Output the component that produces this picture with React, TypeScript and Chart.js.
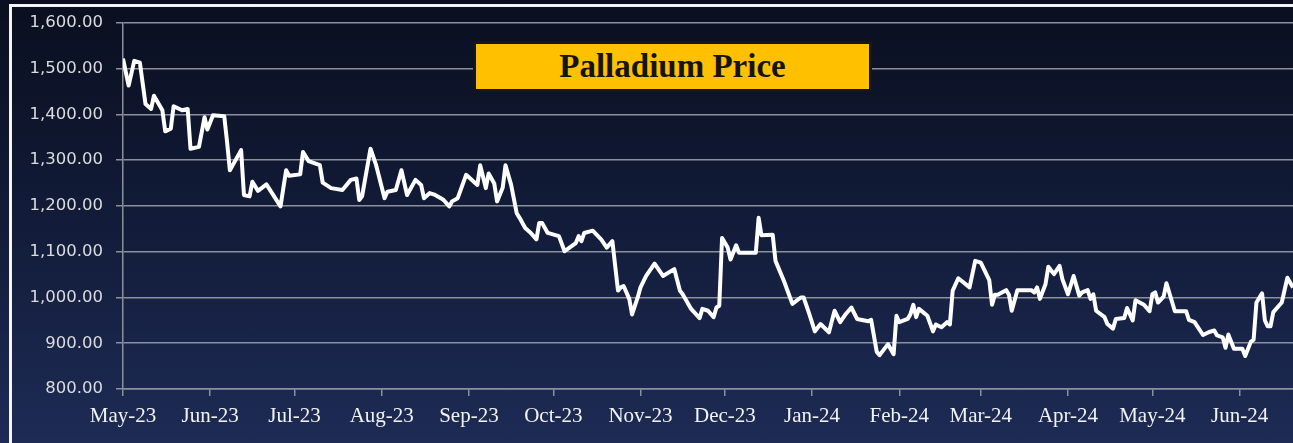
import React, { useEffect, useRef } from "react";
import { Chart, registerables } from "chart.js";

Chart.register(...registerables);

const chartTitle = "Palladium Price";
const axisStart = "2023-05-01";
const axisEnd = "2024-06-20";
const monthStarts = [
  "2023-05-01", "2023-06-01", "2023-07-01", "2023-08-01", "2023-09-01", "2023-10-01", "2023-11-01",
  "2023-12-01", "2024-01-01", "2024-02-01", "2024-03-01", "2024-04-01", "2024-05-01", "2024-06-01",
];
const monthLabels = [
  "May-23", "Jun-23", "Jul-23", "Aug-23", "Sep-23", "Oct-23", "Nov-23",
  "Dec-23", "Jan-24", "Feb-24", "Mar-24", "Apr-24", "May-24", "Jun-24",
];
const yMin = 800;
const yMax = 1600;
const yStep = 100;

const dates = [
  "2023-05-01", "2023-05-03", "2023-05-05", "2023-05-07", "2023-05-09", "2023-05-11", "2023-05-12", "2023-05-15",
  "2023-05-16", "2023-05-18", "2023-05-19", "2023-05-22", "2023-05-24", "2023-05-25", "2023-05-28", "2023-05-30",
  "2023-05-31", "2023-06-02", "2023-06-06", "2023-06-07", "2023-06-08", "2023-06-12", "2023-06-13", "2023-06-15",
  "2023-06-16", "2023-06-18", "2023-06-21", "2023-06-26", "2023-06-28", "2023-06-29", "2023-07-03", "2023-07-04",
  "2023-07-06", "2023-07-10", "2023-07-11", "2023-07-14", "2023-07-18", "2023-07-21", "2023-07-23", "2023-07-24",
  "2023-07-25", "2023-07-28", "2023-07-30", "2023-08-02", "2023-08-03", "2023-08-06", "2023-08-08", "2023-08-10",
  "2023-08-13", "2023-08-15", "2023-08-16", "2023-08-18", "2023-08-20", "2023-08-22", "2023-08-23", "2023-08-25",
  "2023-08-26", "2023-08-28", "2023-08-31", "2023-09-04", "2023-09-05", "2023-09-07", "2023-09-08", "2023-09-10",
  "2023-09-11", "2023-09-13", "2023-09-14", "2023-09-16", "2023-09-18", "2023-09-19", "2023-09-21", "2023-09-23",
  "2023-09-25", "2023-09-26", "2023-09-27", "2023-09-29", "2023-10-03", "2023-10-05", "2023-10-07", "2023-10-09",
  "2023-10-10", "2023-10-11", "2023-10-12", "2023-10-15", "2023-10-18", "2023-10-20", "2023-10-22", "2023-10-24",
  "2023-10-25", "2023-10-26", "2023-10-28", "2023-10-29", "2023-10-31", "2023-11-01", "2023-11-03", "2023-11-06",
  "2023-11-09", "2023-11-13", "2023-11-15", "2023-11-16", "2023-11-19", "2023-11-22", "2023-11-23", "2023-11-25",
  "2023-11-27", "2023-11-28", "2023-11-29", "2023-11-30", "2023-12-02", "2023-12-03", "2023-12-05", "2023-12-06",
  "2023-12-12", "2023-12-13", "2023-12-14", "2023-12-18", "2023-12-19", "2023-12-22", "2023-12-25", "2023-12-28",
  "2023-12-29", "2023-12-31", "2024-01-02", "2024-01-04", "2024-01-07", "2024-01-09", "2024-01-11", "2024-01-13",
  "2024-01-15", "2024-01-17", "2024-01-21", "2024-01-22", "2024-01-24", "2024-01-25", "2024-01-28", "2024-01-30",
  "2024-01-31", "2024-02-01", "2024-02-04", "2024-02-05", "2024-02-06", "2024-02-07", "2024-02-08", "2024-02-11",
  "2024-02-13", "2024-02-14", "2024-02-16", "2024-02-18", "2024-02-19", "2024-02-20", "2024-02-22", "2024-02-26",
  "2024-02-28", "2024-03-01", "2024-03-04", "2024-03-05", "2024-03-06", "2024-03-07", "2024-03-10", "2024-03-11",
  "2024-03-12", "2024-03-14", "2024-03-19", "2024-03-20", "2024-03-21", "2024-03-22", "2024-03-24", "2024-03-25",
  "2024-03-27", "2024-03-29", "2024-03-30", "2024-04-01", "2024-04-03", "2024-04-05", "2024-04-06", "2024-04-08",
  "2024-04-09", "2024-04-10", "2024-04-11", "2024-04-14", "2024-04-15", "2024-04-17", "2024-04-18", "2024-04-21",
  "2024-04-22", "2024-04-24", "2024-04-25", "2024-04-28", "2024-04-30", "2024-05-01", "2024-05-02", "2024-05-03",
  "2024-05-05", "2024-05-06", "2024-05-09", "2024-05-13", "2024-05-14", "2024-05-16", "2024-05-19", "2024-05-21",
  "2024-05-23", "2024-05-24", "2024-05-26", "2024-05-27", "2024-05-28", "2024-05-30", "2024-06-02", "2024-06-03",
  "2024-06-05", "2024-06-06", "2024-06-07", "2024-06-09", "2024-06-10", "2024-06-11", "2024-06-12", "2024-06-13",
  "2024-06-16", "2024-06-18", "2024-06-20",
];

const prices = [
  1522, 1463, 1517, 1513, 1423, 1412, 1441, 1409,
  1363, 1369, 1418, 1409, 1412, 1325, 1329, 1394,
  1367, 1398, 1396, 1340, 1278, 1322, 1224, 1221,
  1253, 1233, 1247, 1199, 1278, 1266, 1269, 1318,
  1298, 1289, 1251, 1239, 1235, 1257, 1260, 1213,
  1221, 1325, 1289, 1217, 1231, 1235, 1278, 1224,
  1257, 1246, 1217, 1228, 1224, 1217, 1213, 1199,
  1210, 1217, 1268, 1246, 1289, 1239, 1271, 1249,
  1210, 1240, 1289, 1246, 1184, 1174, 1152, 1141,
  1127, 1163, 1163, 1141, 1134, 1101, 1110, 1119,
  1134, 1123, 1141, 1146, 1127, 1109, 1123, 1015,
  1022, 1025, 997, 963, 1000, 1022, 1047, 1074,
  1047, 1062, 1015, 1007, 975, 955, 975, 971,
  957, 978, 982, 1130, 1109, 1083, 1114, 1098,
  1098, 1174, 1136, 1137, 1080, 1036, 986, 1000,
  1000, 964, 926, 942, 924, 971, 946, 964,
  978, 953, 948, 951, 881, 874, 898, 876,
  960, 946, 953, 964, 984, 957, 975, 960,
  926, 941, 935, 946, 941, 1015, 1042, 1022,
  1080, 1076, 1038, 984, 1006, 1006, 1016, 1006,
  971, 1016, 1016, 1011, 1022, 997, 1029, 1067,
  1051, 1069, 1040, 1007, 1047, 1004, 1011, 1016,
  997, 1007, 971, 957, 942, 932, 953, 955,
  977, 950, 994, 984, 970, 1007, 1011, 989,
  1002, 1031, 970, 970, 951, 946, 918, 924,
  928, 917, 913, 890, 919, 888, 888, 872,
  903, 908, 989, 1009, 950, 937, 937, 968,
  989, 1043, 1022,
];

const DAY_MS = 86400000;
const dayOf = (iso: string) => {
  const [y, m, d] = iso.split("-").map(Number);
  const [y0, m0, d0] = axisStart.split("-").map(Number);
  return Math.round((Date.UTC(y, m - 1, d) - Date.UTC(y0, m0 - 1, d0)) / DAY_MS);
};

const GRID = "#8b9099";

export default function App() {
  const canvasRef = useRef<HTMLCanvasElement | null>(null);

  useEffect(() => {
    const canvas = canvasRef.current;
    if (!canvas) return;
    const points = dates.map((d, i) => ({ x: dayOf(d), y: prices[i] }));
    const chart = new Chart(canvas, {
      type: "line",
      data: {
        datasets: [
          {
            label: chartTitle,
            data: points,
            borderColor: "#ffffff",
            borderWidth: 4,
            pointRadius: 0,
            tension: 0,
            borderJoinStyle: "round",
            fill: false,
          },
        ],
      },
      options: {
        animation: false,
        responsive: false,
        parsing: true,
        layout: { padding: { top: 20, right: 0, bottom: 0, left: 0 } },
        plugins: {
          legend: { display: false },
          title: { display: false },
          tooltip: { enabled: false },
        },
        scales: {
          x: {
            type: "linear",
            min: dayOf(axisStart),
            max: dayOf(axisEnd),
            afterBuildTicks: (scale: any) => {
              scale.ticks = monthStarts.map((d) => ({ value: dayOf(d) }));
            },
            afterFit: (scale: any) => {
              scale.height = 54;
            },
            ticks: {
              autoSkip: false,
              maxRotation: 0,
              minRotation: 0,
              padding: 8,
              color: "#f2f2f2",
              font: { family: "'Liberation Serif', serif", size: 21 },
              callback: (_v: any, i: number) => monthLabels[i],
            },
            grid: {
              drawOnChartArea: false,
              drawTicks: true,
              tickLength: 7,
              color: GRID,
              lineWidth: 1.5,
            },
            border: { display: true, color: GRID, width: 1.5 },
          },
          y: {
            min: yMin,
            max: yMax,
            afterFit: (scale: any) => {
              scale.width = 123;
            },
            ticks: {
              stepSize: yStep,
              padding: 13,
              color: "#dcdcdc",
              font: { family: "'DejaVu Sans', sans-serif", size: 16.5 },
              callback: (v: any) =>
                Number(v).toLocaleString("en-US", { minimumFractionDigits: 2, maximumFractionDigits: 2 }),
            },
            grid: {
              drawTicks: true,
              tickLength: 7,
              color: GRID,
              lineWidth: 1.5,
            },
            border: { display: true, color: GRID, width: 1.5 },
          },
        },
      },
    });
    return () => chart.destroy();
  }, []);

  return (
    <div
      style={{
        position: "fixed",
        left: 0,
        top: 0,
        width: 1293,
        height: 443,
        overflow: "hidden",
        background: "linear-gradient(180deg, #0a0f1f 0%, #111a36 45%, #1d2b55 100%)",
      }}
    >
      <div
        style={{
          position: "absolute",
          left: 9,
          top: 4,
          width: 1400,
          height: 600,
          borderLeft: "3px solid #f4f4f4",
          borderTop: "3px solid #f4f4f4",
          boxSizing: "border-box",
        }}
      />
      <canvas
        ref={canvasRef}
        width={1293}
        height={443}
        style={{ position: "absolute", left: 0, top: 0, width: 1293, height: 443 }}
      />
      <div
        style={{
          position: "absolute",
          left: 473,
          top: 41,
          width: 399,
          height: 51,
          boxSizing: "border-box",
          background: "#ffc000",
          border: "3px solid #161616",
          display: "flex",
          alignItems: "center",
          justifyContent: "center",
          fontFamily: "'Liberation Serif', serif",
          fontWeight: "bold",
          fontSize: 33,
          color: "#141414",
        }}
      >
        {chartTitle}
      </div>
    </div>
  );
}
